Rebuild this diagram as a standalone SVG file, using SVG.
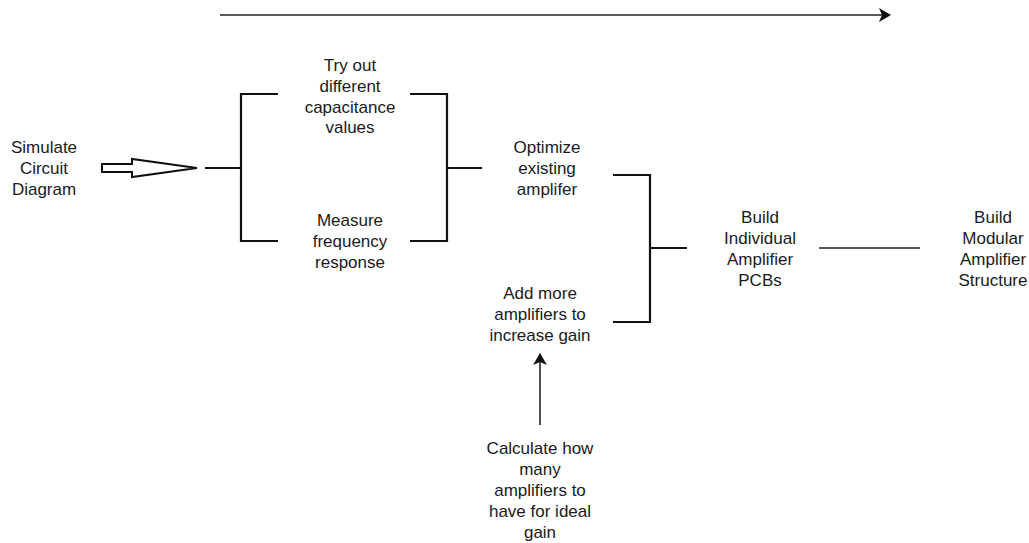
<svg xmlns="http://www.w3.org/2000/svg" width="1029" height="543" viewBox="0 0 1029 543">
<style>
.t{font-family:"Liberation Sans",Arial,sans-serif;font-size:17px;fill:#1a1a22;text-anchor:middle;dominant-baseline:central}
.ln{stroke:#111;stroke-width:2.2;fill:none}
.thin{stroke:#222;stroke-width:1.6;fill:none}
</style>
<defs>
<marker id="ah" markerWidth="12" markerHeight="14" refX="11" refY="7" orient="auto" markerUnits="userSpaceOnUse">
<path d="M0,0 L12,7 L0,14 L3,7 Z" fill="#111"/>
</marker>
</defs>
<rect width="1029" height="543" fill="#fff"/>
<g id="connectors">
<line x1="220" y1="15" x2="890" y2="15" class="thin" stroke-width="2" marker-end="url(#ah)"/>
<polygon points="102,164 132,164 132,159 197,168 132,177 132,172 102,172" fill="#fff" stroke="#111" stroke-width="2" stroke-linejoin="miter"/>
<line x1="205" y1="168" x2="241" y2="168" class="ln"/>
<polyline points="278,94 241,94 241,241 278,241" class="ln"/>
<polyline points="410,94 447,94 447,241 410,241" class="ln"/>
<line x1="447" y1="168" x2="482" y2="168" class="ln"/>
<polyline points="613,175 650,175 650,322 613,322" class="ln"/>
<line x1="650" y1="248" x2="687" y2="248" class="ln"/>
<line x1="819" y1="248" x2="920" y2="248" class="thin" stroke-width="1.8"/>
<line x1="540" y1="425" x2="540" y2="354" class="thin" marker-end="url(#ah)"/>
</g>
<g id="simulate"><text class="t" x="44" y="147">Simulate</text><text class="t" x="44" y="168">Circuit</text><text class="t" x="44" y="189">Diagram</text></g>
<g id="tryout"><text class="t" x="350" y="65">Try out</text><text class="t" x="350" y="86">different</text><text class="t" x="350" y="107">capacitance</text><text class="t" x="350" y="127">values</text></g>
<g id="measure"><text class="t" x="350" y="220">Measure</text><text class="t" x="350" y="241">frequency</text><text class="t" x="350" y="262">response</text></g>
<g id="optimize"><text class="t" x="547" y="147">Optimize</text><text class="t" x="547" y="168">existing</text><text class="t" x="547" y="189">amplifer</text></g>
<g id="addmore"><text class="t" x="540" y="293">Add more</text><text class="t" x="540" y="314">amplifiers to</text><text class="t" x="540" y="335">increase gain</text></g>
<g id="calculate"><text class="t" x="540" y="448">Calculate how</text><text class="t" x="540" y="469">many</text><text class="t" x="540" y="490">amplifiers to</text><text class="t" x="540" y="511">have for ideal</text><text class="t" x="540" y="532">gain</text></g>
<g id="buildpcb"><text class="t" x="760" y="217">Build</text><text class="t" x="760" y="238">Individual</text><text class="t" x="760" y="259">Amplifier</text><text class="t" x="760" y="280">PCBs</text></g>
<g id="buildmodular"><text class="t" x="993" y="217">Build</text><text class="t" x="993" y="238">Modular</text><text class="t" x="993" y="259">Amplifier</text><text class="t" x="993" y="280">Structure</text></g>
</svg>
